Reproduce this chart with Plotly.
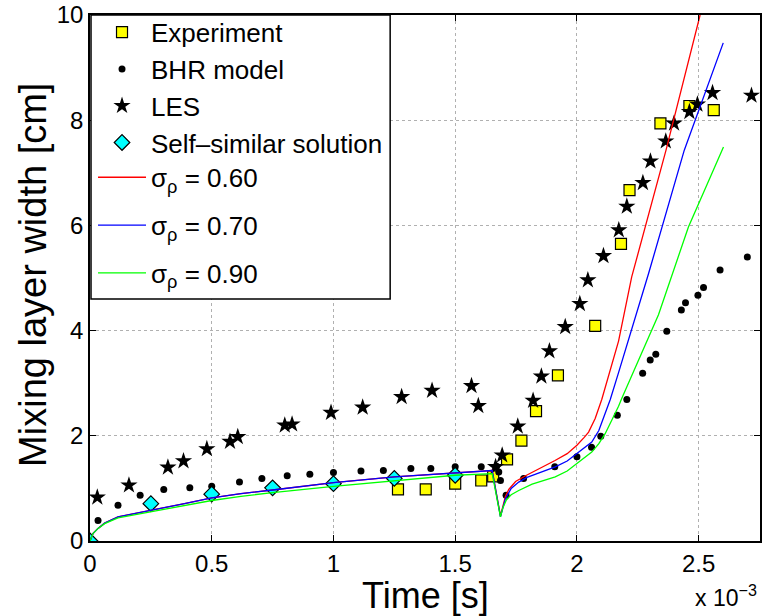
import plotly.graph_objects as go

# ---------------- data (time in units of 1e-3 s, width in cm) ----------------
exp_t = [1.265, 1.379, 1.50, 1.607, 1.656, 1.713, 1.772, 1.832, 1.922, 2.075,
         2.181, 2.216, 2.343, 2.462, 2.562]
exp_w = [0.98, 0.98, 1.09, 1.15, 1.23, 1.55, 1.91, 2.47, 3.15, 4.09,
         5.65, 6.67, 7.94, 8.27, 8.19]

bhr_t = [0.033, 0.115, 0.206, 0.303, 0.41, 0.50, 0.614, 0.706, 0.81, 0.903,
         1.0, 1.113, 1.205, 1.318, 1.40, 1.50, 1.607, 1.67, 1.679, 1.686,
         1.709, 1.781, 1.909, 2.0, 2.06, 2.098, 2.166, 2.205, 2.27, 2.301,
         2.324, 2.369, 2.429, 2.446, 2.497, 2.52, 2.588, 2.70]
bhr_w = [0.39, 0.68, 0.87, 0.98, 1.01, 1.04, 1.12, 1.19, 1.24, 1.27,
         1.30, 1.33, 1.34, 1.38, 1.38, 1.41, 1.41, 1.42, 1.31, 1.15,
         0.87, 1.19, 1.41, 1.60, 1.78, 1.99, 2.39, 2.69, 3.19, 3.44,
         3.55, 3.99, 4.39, 4.53, 4.67, 4.82, 5.15, 5.40]

les_t = [0.030, 0.16, 0.32, 0.384, 0.48, 0.575, 0.607, 0.80, 0.83, 0.99,
         1.12, 1.28, 1.405, 1.567, 1.595, 1.666, 1.693, 1.757, 1.82, 1.854,
         1.887, 1.952, 2.012, 2.045, 2.109, 2.172, 2.205, 2.271, 2.302, 2.365,
         2.399, 2.462, 2.495, 2.557, 2.717]
les_w = [0.83, 1.06, 1.40, 1.52, 1.75, 1.89, 1.98, 2.20, 2.22, 2.44,
         2.54, 2.74, 2.86, 2.95, 2.57, 1.41, 1.63, 2.18, 2.67, 3.13,
         3.61, 4.07, 4.51, 4.96, 5.42, 5.91, 6.36, 6.81, 7.22, 7.60,
         7.94, 8.16, 8.30, 8.52, 8.47]

ss_t = [0.0, 0.25, 0.5, 0.75, 1.0, 1.25, 1.5]
ss_w = [0.0, 0.71, 0.89, 1.01, 1.09, 1.19, 1.25]

s60_t = [0.0, 0.012, 0.033, 0.06, 0.115, 0.25, 0.388, 0.5, 0.62, 0.75, 1.0, 1.25,
         1.5, 1.652, 1.686, 1.695, 1.706, 1.72, 1.748, 1.789, 1.85, 1.91, 1.96,
         2.0, 2.03, 2.048, 2.075, 2.102, 2.171, 2.225, 2.366, 2.506]
s60_w = [0.0, 0.14, 0.24, 0.34, 0.46, 0.58, 0.71, 0.82, 0.90, 0.97, 1.11, 1.22,
         1.30, 1.34, 0.48, 0.66, 0.84, 0.98, 1.13, 1.24, 1.38, 1.53, 1.66,
         1.82, 1.97, 2.07, 2.33, 2.69, 3.80, 5.02, 7.43, 10.0]

s70_t = [0.0, 0.012, 0.033, 0.06, 0.115, 0.25, 0.388, 0.5, 0.62, 0.75, 1.0, 1.25,
         1.5, 1.652, 1.686, 1.695, 1.706, 1.73, 1.761, 1.795, 1.85, 1.911, 1.96,
         2.0, 2.03, 2.061, 2.09, 2.116, 2.137, 2.171, 2.294, 2.441, 2.601]
s70_w = [0.0, 0.14, 0.24, 0.34, 0.46, 0.58, 0.71, 0.82, 0.90, 0.97, 1.11, 1.22,
         1.30, 1.34, 0.46, 0.62, 0.80, 1.00, 1.12, 1.21, 1.30, 1.41, 1.52,
         1.66, 1.76, 1.88, 2.10, 2.42, 2.69, 3.20, 5.08, 7.43, 9.47]

s90_t = [0.0, 0.012, 0.033, 0.06, 0.115, 0.25, 0.388, 0.5, 0.62, 0.75, 1.0, 1.25,
         1.5, 1.652, 1.686, 1.695, 1.71, 1.73, 1.761, 1.816, 1.911, 1.96,
         2.0, 2.061, 2.09, 2.116, 2.171, 2.184, 2.335, 2.458, 2.602]
s90_w = [0.0, 0.14, 0.24, 0.33, 0.44, 0.56, 0.67, 0.77, 0.85, 0.92, 1.04, 1.15,
         1.25, 1.28, 0.46, 0.62, 0.78, 0.88, 0.96, 1.08, 1.22, 1.33,
         1.47, 1.69, 1.85, 2.04, 2.56, 2.71, 4.30, 5.97, 7.49]

labels = ["Experiment", "BHR model", "LES", "Self\u2013similar solution",
          "\u03c3<sub>\u03c1</sub> = 0.60", "\u03c3<sub>\u03c1</sub> = 0.70",
          "\u03c3<sub>\u03c1</sub> = 0.90"]

FONT = "Liberation Sans, Arial, Helvetica, sans-serif"

fig = go.Figure()
fig.add_trace(go.Scatter(x=exp_t, y=exp_w, mode="markers", name=labels[0], legendgroup="a",
                         legend="legend",
                         marker=dict(symbol="square", size=11, color="#ffff00",
                                     line=dict(color="black", width=1.2))))
fig.add_trace(go.Scatter(x=bhr_t, y=bhr_w, mode="markers", name=labels[1], legendgroup="b",
                         legend="legend",
                         marker=dict(symbol="circle", size=7, color="black")))
fig.add_trace(go.Scatter(x=les_t, y=les_w, mode="markers", name=labels[2], legendgroup="c",
                         legend="legend",
                         marker=dict(symbol="star", size=13, color="black",
                                     line=dict(width=0))))
fig.add_trace(go.Scatter(x=ss_t, y=ss_w, mode="markers", name=labels[3], legendgroup="d",
                         legend="legend",
                         marker=dict(symbol="diamond", size=12, color="#00ffff",
                                     line=dict(color="black", width=1.2))))
for t, w, name, col, g in [(s60_t, s60_w, labels[4], "#ff0000", "e"),
                           (s70_t, s70_w, labels[5], "#0000ff", "f"),
                           (s90_t, s90_w, labels[6], "#00ff00", "g")]:
    fig.add_trace(go.Scatter(x=t, y=w, mode="lines", name=name, legendgroup=g,
                             legend="legend2",
                             line=dict(color=col, width=1.3)))

axis_common = dict(showline=True, linecolor="black", linewidth=1.5, mirror="allticks",
                   ticks="inside", ticklen=6, tickcolor="black", tickwidth=1,
                   showgrid=True, gridcolor="#b0b0b0", griddash="dot", gridwidth=1,
                   zeroline=False, tickfont=dict(family=FONT, size=24, color="black"))

legend_common = dict(xanchor="left", yanchor="top", bgcolor="rgba(0,0,0,0)",
                     borderwidth=0, font=dict(family=FONT, size=26, color="black"),
                     itemwidth=48)

fig.update_layout(
    width=763, height=616,
    margin=dict(l=90, r=1, t=15, b=75),
    plot_bgcolor="white", paper_bgcolor="white",
    font=dict(family=FONT, color="black"),
    xaxis=dict(range=[0, 2.752], tickvals=[0, 0.5, 1, 1.5, 2, 2.5],
               ticktext=["0", "0.5", "1", "1.5", "2", "2.5"], **axis_common),
    yaxis=dict(range=[0, 10], tickvals=[0, 2, 4, 6, 8, 10], **axis_common),
    legend=dict(x=0.0045, y=1.012, traceorder="normal", **legend_common),
    legend2=dict(x=0.0045, y=0.736, traceorder="grouped", tracegroupgap=11,
                 **legend_common),
    showlegend=True,
    shapes=[dict(type="rect", xref="paper", yref="paper", x0=0.0015, x1=0.448,
                 y0=0.460, y1=1.0, fillcolor="white", layer="above",
                 line=dict(color="black", width=1.5))],
    annotations=[
        dict(text="Time [s]", xref="paper", yref="paper", x=0.5, y=-0.103,
             xanchor="center", yanchor="middle", showarrow=False,
             font=dict(family=FONT, size=36, color="black")),
        dict(text="Mixing layer width [cm]", xref="paper", yref="paper", x=-0.085, y=0.506,
             xanchor="center", yanchor="middle", showarrow=False, textangle=-90,
             font=dict(family=FONT, size=38, color="black")),
        dict(text="x 10<sup>\u22123</sup>", xref="paper", yref="paper", x=0.998, y=-0.1365,
             xanchor="right", yanchor="bottom", showarrow=False,
             font=dict(family=FONT, size=23, color="black")),
    ],
)

fig.write_html("out.html")
